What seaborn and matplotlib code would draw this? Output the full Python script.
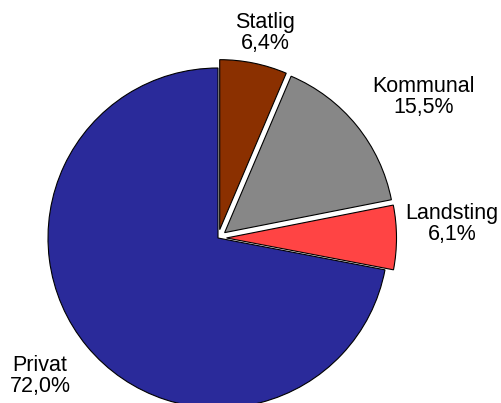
import matplotlib
matplotlib.use("Agg")
import matplotlib.pyplot as plt
import seaborn as sns

# data
labels = ["Statlig", "Kommunal", "Landsting", "Privat"]
shares = [6.4, 15.5, 6.1, 72.0]
colors = ["#8B3000", "#878787", "#FF4444", "#2A2A9A"]
explode = [0.05, 0.05, 0.05, 0.0]   # fraction of radius

sns.set_style("white")
plt.rcParams["font.family"] = ["Liberation Sans", "DejaVu Sans"]

W, H = 501, 403
fig = plt.figure(figsize=(W / 100, H / 100), dpi=100)
ax = fig.add_axes([0, 0, 1, 1])

cx, cy, r = 218, H - 238, 170
# pie explode is in data units here, so scale by radius
ax.pie(shares, colors=colors, explode=[e * r for e in explode], startangle=90,
       counterclock=False, center=(cx, cy), radius=r, frame=True,
       wedgeprops=dict(edgecolor="black", linewidth=0.8))

# label positions (pixels, top-left origin)
label_pos = [(265, 33), (424, 97), (452, 224), (40, 376)]
for lab, val, (x, y) in zip(labels, shares, label_pos):
    txt = f"{lab}\n{val:.1f}%".replace(".", ",")
    ax.text(x, H - y, txt, ha="center", va="center", fontsize=15.5,
            linespacing=1.0, color="black")

ax.set_xlim(0, W)
ax.set_ylim(0, H)
ax.set_aspect("equal")
ax.axis("off")

fig.savefig("out.png", dpi=100)
plt.close()
